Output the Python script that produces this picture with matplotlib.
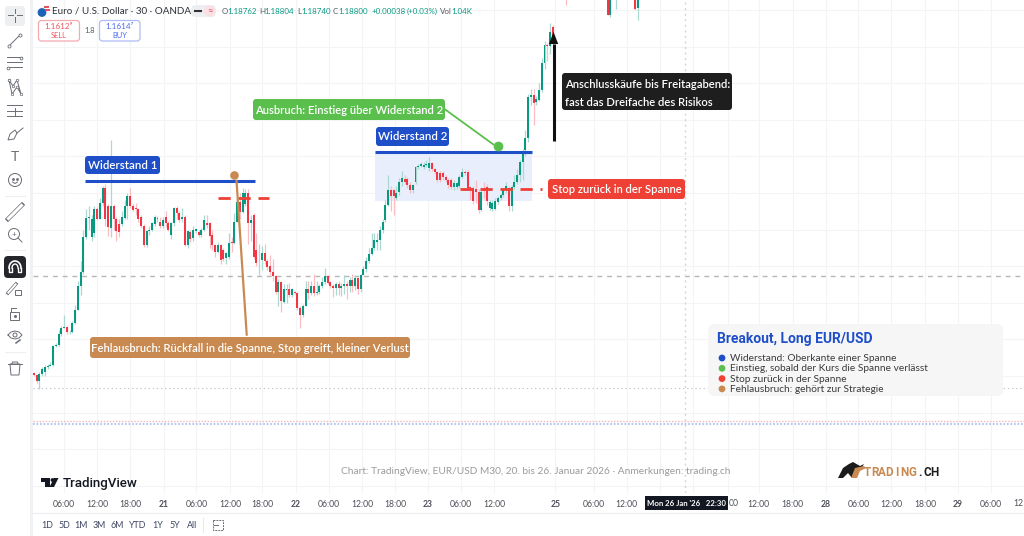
import numpy as np
import matplotlib
matplotlib.use("Agg")
import matplotlib.pyplot as plt
from matplotlib.patches import FancyBboxPatch, Polygon, Circle, Rectangle

plt.rcParams['font.family'] = ['Lato', 'DejaVu Sans']

# EUR/USD M30, all prices as pips above 1.1700
opens = [40.8,40.4,38.5,40.5,41,42.5,42.8,43,48.1,48.5,
         51.5,53.1,53.5,51.9,52,54.5,58.1,64.5,68.3,78.1,
         83.1,77.9,79,85.5,83,87.4,91.5,86.5,80.5,86.5,
         83,81.5,81.5,83.3,86.4,89.3,86.5,86,85.5,83.4,
         81,75.8,79.5,80,81.5,82.8,82.2,81,83.4,81.9,
         78.5,81.7,85.8,84.5,82.8,83.4,75.8,79.4,77.6,79.5,
         79.4,78.5,79.9,81.8,81.7,78.5,75.8,74,75.8,74.4,
         72.2,72.6,76.7,76.3,82.2,87.6,84.9,87,89.9,81.9,
         84,74.3,71.3,71.7,73.7,71.5,70,68.5,67.2,62.9,
         65.8,60.1,63.5,63.7,62,63,62.8,58.5,56.7,59.2,
         63.7,62.6,64.6,62.6,62.9,64.5,65.8,67.2,65.8,64.5,
         64,65.2,64,64.6,65.2,64.5,66.3,64.7,66.7,63.7,
         67.6,69.2,71.3,73.4,75,76.5,77.2,79.9,82.5,86.7,
         90.8,90.7,88.5,90.4,93,93.7,93.7,92.2,90.8,93,
         97,97.5,97.2,97.6,96.7,98.1,96.5,95.8,95.5,95.5,
         94.5,93.5,93.5,91.7,91.7,92,94.4,95.8,95.8,91.7,
         91.3,91,90.4,85.4,91.3,91.7,85.8,85.6,85.6,87.6,
         88.5,89.4,90.8,91.3,86.5,91.7,93,95,98.5,101.7,
         104.9,116.3,116.7,114.9,115.4,118.1,125.4,130.4,130.2,135.4]
closes = [40.4,38.5,40.5,41.9,42.5,42.8,43,48.1,48.5,51.5,
          53.1,53.5,51.9,52,54.5,58.1,64.5,68.3,78.1,83.1,
          83.4,83,85.5,83,87.4,91.5,82.8,80.6,86.5,82.8,
          79.5,79.4,83.4,86.5,89.2,86.5,85.4,85.5,83,81,
          75.8,79.5,80,81.7,83.4,83.1,81,82.5,81.9,79.9,
          81.7,85.8,84.5,82.6,83.4,75.8,79.5,77.4,79.9,80.1,
          78.5,79.9,82.5,81.3,78.3,75.8,74,75.8,71.7,71.9,
          73.5,76.3,76.3,82.2,87.6,84.9,89.9,89.9,81.9,82.5,
          72.5,70.8,71.5,73.7,71.5,69.9,68.5,67.2,62.9,65.8,
          60.4,63.7,63.7,62.2,63.7,62.8,58.5,56.7,59.2,63.7,
          62.6,64.6,62.6,63,64.5,65.8,67.2,65.5,64.5,64,
          65.2,64,64.6,65.2,64.5,66.3,64.7,66.7,63.7,67.6,
          69.2,71.3,73.4,75,77.2,77.2,79.9,82.2,86.7,90.8,
          89.3,89.3,90,93,94,93,92.2,90.8,92.2,97,
          97.5,97.8,97.6,98,98.1,96.5,95.8,93.5,93.5,94.5,
          93.5,92.2,91.7,92.6,92.8,94.4,95.8,95.4,91.5,91.3,
          87.9,90.4,85.4,90.4,90.6,87.9,87.6,87.2,87.8,88.7,
          89.5,90.8,92,86.5,91.7,93,95,98.5,101.3,104.9,
          116.3,116.7,114.6,115.8,118.1,125.4,130.4,130.1,134,133]
highs = [41.2,40.5,41,42.5,43,43.2,43.8,48.5,49,52.6,
         53.6,56.8,53.6,52.5,55,59.5,66,71.3,80,85.5,
         86.5,84,86.5,86.2,88.5,92,92.5,87,104.5,87,
         83.5,83,85,88,90,91.3,87,87.4,86,84,
         81.5,80,81,82,84,83.6,83.5,83.5,85,82.3,
         82,86.2,86.5,85,86,84,80,80,81,80.5,
         80,80.5,84,84,82,80,76,76.5,76,75,
         74,79,78,84.5,90,90,91.5,91,91,84,
         84.5,79,76,75.5,76,72,73,72,67.5,66.5,
         66,65,65,65.5,64,63.3,63,59,59.8,66,
         66,66,68,66,65,67,69.5,67.7,66,65,
         65.8,66,65.5,67.5,66,67,68,67.5,67,68,
         70,72.5,75,79,79,79,81,82.8,88,95,
         92,91,92,94,96,95,94.5,93,92.5,97.5,
         98,98.6,98.5,99,99.7,98.4,96.7,96,96,96,
         95,94,94,93.5,93,95,96.7,96.3,96.3,92,
         92,93.5,91,91,93,92.5,88,88,88.5,89.3,
         90,91,93,92,92.2,95,96.5,99,102,107.2,
         117,118.5,118.5,116.5,120,127,131.5,131,136.5,136]
lows = [40,38,36.5,40,40,42,42.6,42.8,48,48.3,
        51,53,51.5,51.5,51.8,54.3,58,62,68,77.5,
        80,77,78,82.5,82.8,86.5,81,78.2,78,80,
        77,78,81,83,83,86,85,84,82,80.5,
        75.2,75.3,78.5,79.5,81,82,80.5,80.5,80.8,79.5,
        77.5,81,83,82,82,75.5,75,76.5,77,79,
        78,78,79.5,80.5,75,74.5,72.5,73.5,70.5,71.5,
        70.5,72,74,76,82,83,84.5,86.5,76,77,
        72,70,67.7,69,70.5,69,67.5,66,62.4,59,
        57.5,60,60,61.5,61.5,62.3,58,53,56,59,
        61,62,61.8,62,62.5,64,65,65,64,61.5,
        62,62,61.8,62.5,61,63,63,63.5,62.5,63,
        67.5,68.5,71,73,74.5,74.5,74.5,79,82,86.5,
        85,84,88,89.5,92,92.5,91.5,90,90,92.5,
        96.5,97,96.5,97,96,96,95.3,93,93,93.5,
        93,91.5,91,90.8,91,91.5,94,95,91,88,
        87,87.3,84.4,85,88.5,86.8,85.3,85.2,85.3,87,
        88,88.8,90,85,85.2,91,92.5,93,93.5,100,
        104,114,108.5,114,115,117.5,124,126,128,132]

# the few Monday candles that just reach into the top of the pane
top_bars = [194, 209, 210, 212, 219, 220]
top_opens = [148, 146, 138.6, 146, 146, 140.5]
top_closes = [146, 138.5, 146, 147, 140.4, 146]
top_highs = [148, 147, 147, 148, 147, 147]
top_lows = [141.5, 138.5, 138, 140.4, 140, 137.2]

# labels under the crosshair box stay empty, the reference hides them too
time_ticks = [11, 23.1, 35.1, 47.2, 59.2, 71.4, 83.2, 95.4, 107.5, 119.6, 131.7, 143.6, 155.6, 167.6,
              190, 204, 216, 228, 240, 252.7, 264, 276.4, 288.4, 300.4, 312.4, 324.7, 336.7, 348.7, 360.7]
time_labels = ["06:00", "12:00", "18:00", "21", "06:00", "12:00", "18:00", "22", "06:00", "12:00", "18:00", "23", "06:00", "12:00",
               "25", "06:00", "12:00", "", "", "", "12:00", "18:00", "28", "06:00", "12:00", "18:00", "29", "06:00", ""]
day_labels = ["21", "22", "23", "25", "26", "28", "29"]

resist1 = 93.3
resist2 = 101.2
range_low = 87.8
stop1 = 88.6
stop2 = 91.0
last_close = 67.3
cross_price = 36.7
cross_bar = 237.3
ask_price = 27.7
bid_price = 26.9

BLUE = "#1f4fc8"
GREEN = "#5bbf4d"
RED = "#ee4035"
ORANGE = "#c98a52"
UP = "#089981"
DOWN = "#f23645"

fig = plt.figure(figsize=(10.24, 5.36), dpi=100)
ax = fig.add_axes([33/1024, 1-493/536, 991/1024, 493/536])
ax.set_xlim(-0.36, 360)
ax.set_ylim(8.03, 142.73)

bars = np.concatenate([np.arange(len(opens)), top_bars])
o = np.array(opens + top_opens)
c = np.array(closes + top_closes)
h = np.array(highs + top_highs)
l = np.array(lows + top_lows)
rising = c >= o

ax.vlines(bars[rising], l[rising], h[rising], colors="#a9d9d0", lw=0.9, zorder=2)
ax.vlines(bars[~rising], l[~rising], h[~rising], colors="#fbbcc2", lw=0.9, zorder=2)
ax.bar(bars[rising], (c-o)[rising], bottom=o[rising], width=0.72, color=UP, lw=0, zorder=3)
ax.bar(bars[~rising], (c-o)[~rising], bottom=o[~rising], width=0.72, color=DOWN, lw=0, zorder=3)

ax.set_yticks(np.arange(10, 141, 10))
ax.set_xticks(time_ticks)
ax.set_xticklabels(time_labels, fontsize=6.2, color="#4c5058")
for lab in ax.get_xticklabels():
    if lab.get_text() in day_labels:
        lab.set_fontweight("bold")
ax.tick_params(length=0, labelleft=False)
ax.tick_params(axis="x", pad=5.3)
ax.grid(True, color="#f3f4f6", lw=0.8)
ax.set_axisbelow(True)
for s in ax.spines.values():
    s.set_visible(False)

# price lines and crosshair
ax.axhline(last_close, color="#b4b6ba", lw=1, ls=(0, (3.5, 3.5)), zorder=1.5)
ax.axhline(cross_price, color="#c4c6ca", lw=0.8, ls=(0, (1.2, 2.5)), zorder=1.5)
ax.axvline(cross_bar, color="#d4d5d9", lw=1, ls=(0, (1.5, 2.5)), zorder=1.5)
ax.axhline(ask_price, color="#f5b6bc", lw=1, ls=(0, (1, 1.2)), zorder=1.5)
ax.axhline(bid_price, color="#b3c6f3", lw=1.5, ls=(0, (0.8, 0.9)), zorder=1.5)

# breakout annotations
ax.add_patch(Rectangle((124.4, range_low), 57.1, resist2-range_low, color="#e8eefb", lw=0, zorder=1))
ax.plot([18.5, 80.7], [resist1, resist1], color=BLUE, lw=2.2, zorder=5, solid_capstyle="butt")
ax.plot([124.4, 181.5], [resist2, resist2], color=BLUE, lw=2.2, zorder=5, solid_capstyle="butt")
ax.plot([66.9, 85.8], [stop1, stop1], color=RED, lw=2, ls=(0, (4.4, 2.8)), zorder=5)
ax.plot([155.3, 185.1], [stop2, stop2], color=RED, lw=2, ls=(0, (4.4, 2.8)), zorder=5)
ax.plot([73.8, 77.5], [93.3, 51.3], color=ORANGE, lw=1.6, zorder=5)
ax.plot([72.7], [94.9], "o", color=ORANGE, ms=6.2, mew=0, zorder=6)
ax.plot([149.1, 167.3], [113.2, 103.3], color=GREEN, lw=1.3, zorder=5)
ax.plot([169.1], [102.8], "o", color=GREEN, ms=7, mew=0, zorder=6)
ax.plot([189.3, 189.3], [104.2, 130.7], color="#111111", lw=2.2, zorder=6, solid_capstyle="butt")
ax.add_patch(Polygon([[189.3, 134], [187.6, 130.7], [191, 130.7]], color="#111111", lw=0, zorder=6))

# everything below is page furniture, placed in image pixels
ov = fig.add_axes([0, 0, 1, 1], facecolor="none")
ov.set_xlim(0, 1024)
ov.set_ylim(536, 0)
ov.axis("off")


def tag(x0, y0, x1, y1, color, r=3, z=8, edge="none", lw=0):
    ov.add_patch(FancyBboxPatch((x0+r, y0+r), x1-x0-2*r, y1-y0-2*r,
                                boxstyle=f"round,pad={r},rounding_size={r}",
                                fc=color, ec=edge, lw=lw, zorder=z))


def label(x0, y0, x1, y1, color, txt, size=8.15):
    tag(x0, y0, x1, y1, color)
    ov.text((x0+x1)/2, (y0+y1)/2 + 0.5, txt, color="white", fontsize=size, ha="center", va="center",
            fontweight="semibold", zorder=9)


label(85, 156, 160, 174, BLUE, "Widerstand 1", size=8.3)
label(376, 127, 449, 146, BLUE, "Widerstand 2", size=8.3)
label(253, 99, 445, 120, GREEN, "Ausbruch: Einstieg über Widerstand 2")
label(548, 179, 685, 199, RED, "Stop zurück in der Spanne")
label(90, 337, 410, 358, ORANGE, "Fehlausbruch: Rückfall in die Spanne, Stop greift, kleiner Verlust")
tag(562, 73, 732, 110, "#1e1e1e")
ov.text(565, 85, "Anschlusskäufe bis Freitagabend:", color="white", fontsize=8.15, va="center", fontweight="semibold", zorder=9)
ov.text(565, 103, "fast das Dreifache des Risikos", color="white", fontsize=8.15, va="center", fontweight="semibold", zorder=9)

# legend panel
tag(708, 324, 1003, 396, "#f6f6f7", r=6, z=4)
ov.text(717, 339, "Breakout, Long EUR/USD", color=BLUE, fontsize=10, va="center", fontweight="bold",
        family=["Roboto", "DejaVu Sans"], zorder=5)
legend_items = ["Widerstand: Oberkante einer Spanne", "Einstieg, sobald der Kurs die Spanne verlässt",
                "Stop zurück in der Spanne", "Fehlausbruch: gehört zur Strategie"]
legend_colors = [BLUE, GREEN, RED, ORANGE]
for k in range(4):
    ypos = 358 + 10.3*k
    ov.add_patch(Circle((722, ypos), 3.4, color=legend_colors[k], lw=0, zorder=5))
    ov.text(730.5, ypos + 0.6, legend_items[k], color="#3a3a3c", fontsize=7.3, va="center", zorder=5)

# caption and logos
ov.text(535.5, 472, "Chart: TradingView, EUR/USD M30, 20. bis 26. Januar 2026 · Anmerkungen: trading.ch",
        color="#9a9a9a", fontsize=7.25, ha="center", va="center", zorder=5)
ov.add_patch(Polygon([[40.5, 478], [50, 478], [50, 487], [45, 487], [45, 482], [40.5, 482]], color="#131722", lw=0, zorder=5))
ov.add_patch(Circle((52.5, 480), 1.9, color="#131722", lw=0, zorder=5))
ov.add_patch(Polygon([[54, 478], [58.5, 478], [54, 487], [49.5, 487]], color="#131722", lw=0, zorder=5))
ov.text(62.5, 483, "TradingView", color="#131722", fontsize=9.6, va="center", fontweight="medium",
        family=["Roboto", "DejaVu Sans"], zorder=5)
ov.add_patch(Polygon([[838, 478], [843, 468], [849, 464], [853, 462], [860, 466], [864, 464], [861, 469], [856, 470], [852, 478], [848, 473], [843, 478]],
                     color="#1b1b1b", lw=0, zorder=5))
ov.add_patch(Polygon([[851, 478], [855, 468], [864, 466], [866, 468], [860, 471], [857, 478]], color=ORANGE, lw=0, zorder=6))
for k, ch in enumerate("TRADING.CH"):
    ov.text(867 + 7.5*k, 473, ch, color=ORANGE if k < 7 else "#1b1b1b", fontsize=8.4, ha="center", va="center",
            fontweight="bold", family=["Roboto", "DejaVu Sans"], zorder=5)

# crosshair time box, with the tails of the labels it covers
ov.add_patch(Rectangle((645, 496), 83, 14, color="#131722", lw=0, zorder=6))
ov.text(686.5, 503.5, "Mon 26 Jan '26   22:30", color="white", fontsize=5.6, fontweight="bold", ha="center", va="center", zorder=7)
ov.text(729, 504, "00", color="#4c5058", fontsize=6.2, va="center", zorder=5)
ov.text(1023.5, 504, "12", color="#4c5058", fontsize=6.2, ha="right", va="center", zorder=5)

# bottom bar
ov.plot([33, 1024], [513, 513], color="#eceef1", lw=0.9)
range_names = ["1D", "5D", "1M", "3M", "6M", "YTD", "1Y", "5Y", "All"]
range_x = [47, 64, 81, 99.5, 117, 138, 158, 175, 192]
for name, xpos in zip(range_names, range_x):
    ov.text(xpos, 525, name, color="#3f4663", fontsize=6.4, ha="center", va="center")
ov.plot([203, 203], [518, 532], color="#e6e8ec", lw=0.8)
ov.add_patch(Rectangle((212.5, 520), 10, 10, fc="none", ec="#6a6d75", lw=0.7, ls=(0, (2, 1))))
ov.plot([214, 218], [525, 525], color="#6a6d75", lw=0.7)

# header
ov.add_patch(Circle((42, 12.5), 4.4, color="#1e62b8", lw=0))
ov.add_patch(Rectangle((44, 6), 5, 1.8, color="#e8505b", lw=0))
ov.add_patch(Rectangle((45, 9.2), 5, 1.8, color="#e8505b", lw=0))
ov.text(52, 11, "Euro / U.S. Dollar · 30 · OANDA", color="#2f323a", fontsize=7.15, va="center")
tag(191, 5, 216, 17, "#eceef1", r=5, z=3)
ov.add_patch(Circle((209.5, 11), 5.5, color="#fbdfe3", lw=0, zorder=3.5))
ov.plot([195, 201], [11, 11], color="#333333", lw=1.5, zorder=4)
ov.text(209.5, 11, "≈", color="#e0566d", fontsize=7, ha="center", va="center", zorder=4)

hdr_x = [221.5, 259, 297, 333]
hdr_keys = ["O", "H", "L", "C"]
hdr_vals = ["1.18762", "1.18804", "1.18740", "1.18800"]
for xpos, key, val in zip(hdr_x, hdr_keys, hdr_vals):
    ov.text(xpos, 11, key, color="#54575f", fontsize=5.7, va="center")
    ov.text(xpos+5.5 - (1.5 if key == "L" else 0), 11, val, color=UP, fontsize=5.7, va="center")
ov.text(372, 11, "+0.00038", color=UP, fontsize=5.7, va="center")
ov.text(407, 11, "(+0.03%)", color=UP, fontsize=5.7, va="center")
ov.text(440, 11, "Vol", color="#54575f", fontsize=5.7, va="center")
ov.text(451.5, 11, "1.04K", color=UP, fontsize=5.7, va="center")

tag(38.5, 20.5, 79.5, 41, "white", r=3, edge="#f7a9b0", lw=0.9)
ov.text(59, 26.5, "1.1612⁹", color="#f2545f", fontsize=5.9, ha="center", va="center", zorder=9)
ov.text(59, 35.5, "SELL", color="#f2545f", fontsize=5.4, ha="center", va="center", zorder=9)
ov.text(89.5, 30.5, "1.8", color="#54575f", fontsize=5.4, ha="center", va="center", zorder=9)
tag(99.5, 20.5, 140, 41, "white", r=3, edge="#aebdf5", lw=0.9)
ov.text(119.5, 26.5, "1.1614⁷", color="#4a6cf0", fontsize=5.9, ha="center", va="center", zorder=9)
ov.text(119.5, 35.5, "BUY", color="#4a6cf0", fontsize=5.4, ha="center", va="center", zorder=9)

# left toolbar
ov.add_patch(Rectangle((0, 0), 30, 536, color="white", lw=0, zorder=1))
ov.add_patch(Rectangle((30, 0), 2.5, 536, color="#f0f1f4", lw=0, zorder=1))
ICON = "#6a6d75"
ILW = 0.7
tag(5, 6, 25, 26, "#eeeff1", r=3, z=2)
ov.plot([15, 15], [9, 13], color=ICON, lw=ILW, zorder=3)
ov.plot([15, 15], [17, 22], color=ICON, lw=ILW, zorder=3)
ov.plot([8, 13], [15, 15], color=ICON, lw=ILW, zorder=3)
ov.plot([17, 22], [15, 15], color=ICON, lw=ILW, zorder=3)
ov.plot([9, 20], [46, 35], color=ICON, lw=ILW, marker="o", ms=2.2, mfc="white", mec=ICON, mew=0.6, zorder=3)
for yy in [57, 62, 67]:
    ov.plot([7, 22], [yy, yy], color=ICON, lw=ILW, zorder=3)
ov.plot([21], [58], "o", ms=2, mfc="white", mec=ICON, mew=0.6, zorder=3)
ov.plot([8], [68], "o", ms=2, mfc="white", mec=ICON, mew=0.6, zorder=3)
ov.plot([9, 13, 17, 21, 17, 12, 9], [80, 86, 80, 94, 87, 94, 80], color=ICON, lw=ILW, marker="o", ms=1.8, mfc="white", mec=ICON, mew=0.5, zorder=3)
for yy in [105, 111, 116]:
    ov.plot([7, 22], [yy, yy], color=ICON, lw=ILW, zorder=3)
ov.plot([15, 15], [108, 115], color=ICON, lw=ILW, zorder=3)
ov.add_patch(Polygon([[8, 140], [10, 134], [15, 130], [17, 133], [14, 139]], fc="none", ec=ICON, lw=ILW, zorder=3))
ov.plot([17, 23], [133, 128], color=ICON, lw=ILW, zorder=3)
ov.text(15, 157, "T", color=ICON, fontsize=10, ha="center", va="center", zorder=3)
ov.add_patch(Circle((15, 180), 6.5, fc="none", ec=ICON, lw=ILW, zorder=3))
ov.plot([12.8, 17.2], [178.5, 178.5], ls="none", marker="o", ms=1, color=ICON, zorder=3)
ov.plot([12.5, 15, 17.5], [182, 183.5, 182], color=ICON, lw=ILW, zorder=3)
ov.plot([8, 22], [219, 205], color=ICON, lw=3.2, zorder=3)
ov.plot([8.5, 21.5], [218.5, 205.5], color="white", lw=2.2, zorder=3)
ov.add_patch(Circle((14, 234), 5.5, fc="none", ec=ICON, lw=ILW, zorder=3))
ov.plot([18, 22], [238, 242], color=ICON, lw=ILW, zorder=3)
ov.text(14, 234, "+", color=ICON, fontsize=6, ha="center", va="center", zorder=3)
tag(4, 256, 26, 278, "#24262b", r=4, z=2)
ov.plot(15 + 6*np.cos(np.linspace(np.pi, 2*np.pi, 20)), 268 + 7*np.sin(np.linspace(np.pi, 2*np.pi, 20)),
        color="white", lw=1.2, zorder=3)
ov.plot(15 + 3*np.cos(np.linspace(np.pi, 2*np.pi, 20)), 268 + 4*np.sin(np.linspace(np.pi, 2*np.pi, 20)),
        color="white", lw=1.0, zorder=3)
ov.plot([9, 9, 12, 12], [268, 272, 272, 268], color="white", lw=1, zorder=3)
ov.plot([18, 18, 21, 21], [268, 272, 272, 268], color="white", lw=1, zorder=3)
ov.plot([8, 16], [293, 284], color=ICON, lw=2.4, zorder=3)
ov.plot([8.3, 15.7], [292.7, 284.3], color="white", lw=1.4, zorder=3)
ov.add_patch(Rectangle((15, 290), 6, 5, fc="none", ec=ICON, lw=ILW, zorder=3))
ov.add_patch(Rectangle((10, 312), 9, 8, fc="none", ec=ICON, lw=ILW, zorder=3))
ov.plot([11, 11, 16], [312, 308, 308], color=ICON, lw=ILW, zorder=3)
ov.plot([14.5], [316], "o", ms=1.2, color=ICON, zorder=3)
ov.plot([8, 11, 15, 19, 22, 19, 15, 11, 8], [335, 332, 331, 332, 335, 338, 339, 338, 335], color=ICON, lw=ILW, zorder=3)
ov.add_patch(Circle((15, 335), 2, fc="none", ec=ICON, lw=ILW, zorder=3))
ov.plot([16, 20], [343, 340], color=ICON, lw=1.1, zorder=3)
ov.add_patch(Polygon([[10, 364], [20, 364], [19, 375], [11, 375]], fc="none", ec=ICON, lw=ILW, zorder=3))
ov.plot([8, 22], [364, 364], color=ICON, lw=ILW, zorder=3)
ov.plot([12, 12.5, 17.5, 18], [364, 362, 362, 364], color=ICON, lw=ILW, zorder=3)
for yy in [196, 250, 352]:
    ov.plot([5, 25], [yy, yy], color="#eeeff1", lw=0.8, zorder=2)

fig.savefig("out.png", dpi=100, facecolor="white")
